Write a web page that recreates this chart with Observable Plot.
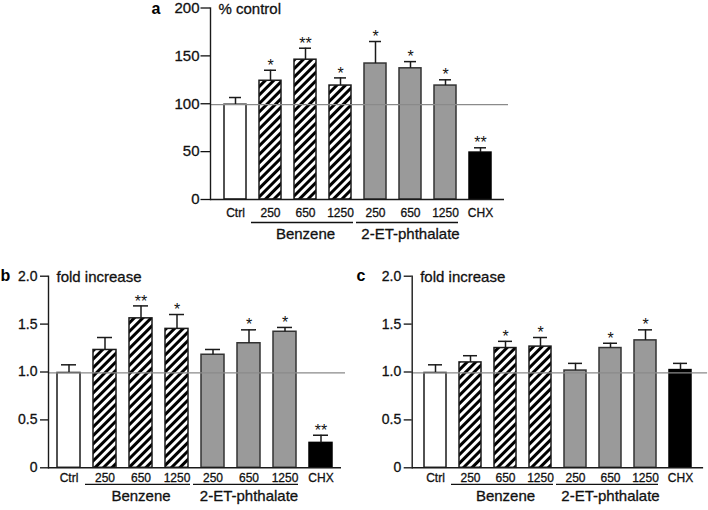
<!DOCTYPE html>
<html><head><meta charset="utf-8">
<script src="https://cdn.jsdelivr.net/npm/d3@7"></script>
<script src="https://cdn.jsdelivr.net/npm/@observablehq/plot@0.6"></script>
<style>
html,body{margin:0;padding:0;background:#fff;}
#fig{position:relative;width:708px;height:510px;overflow:hidden;background:#fff;font-family:"Liberation Sans",Arial,sans-serif;}
#fig > svg{position:absolute;}
</style></head><body>
<div id="fig"></div>
<script>
// ---- data ----
const categories = ["Ctrl","B250","B650","B1250","E250","E650","E1250","CHX"];
const tickLabels = ["Ctrl","250","650","1250","250","650","1250","CHX"];
const kinds = ["open","hatch","hatch","hatch","grey","grey","grey","black"];
const groupNames = ["Benzene","2-ET-phthalate"];
const groupFrom = ["B250","E250"];
const groupTo = ["B1250","E1250"];
const groupMid = ["B650","E650"];

const aValues = [99, 124, 146, 119, 142, 137, 119, 49];
const aErrors = [106.5, 135, 158, 127, 165, 144, 125, 54];
const aStars = ["", "*", "**", "*", "*", "*", "*", "**"];
const aTicks = [0, 50, 100, 150, 200];
const aTickLabels = ["0", "50", "100", "150", "200"];

const bValues = [0.99, 1.23, 1.56, 1.45, 1.18, 1.30, 1.42, 0.26];
const bErrors = [1.075, 1.36, 1.69, 1.60, 1.235, 1.44, 1.465, 0.34];
const bStars = ["", "", "**", "*", "", "*", "*", "**"];

const cValues = [0.99, 1.10, 1.25, 1.265, 1.015, 1.25, 1.33, 1.02];
const cErrors = [1.075, 1.17, 1.32, 1.36, 1.09, 1.30, 1.44, 1.09];
const cStars = ["", "", "*", "*", "", "*", "*", ""];

const foldTicks = [0, 0.5, 1.0, 1.5, 2.0];
const foldTickLabels = ["0", "0.5", "1.0", "1.5", "2.0"];

// ---- helpers ----
const fig = d3.select("#fig");

// hatch pattern definition
const defsSvg = fig.append("svg").attr("width", 0).attr("height", 0).style("left", "0px").style("top", "0px");
const pat = defsSvg.append("defs").append("pattern")
  .attr("id", "hatch").attr("patternUnits", "userSpaceOnUse")
  .attr("width", 6).attr("height", 6).attr("patternTransform", "rotate(45)");
pat.append("rect").attr("width", 6).attr("height", 6).attr("fill", "#fff");
pat.append("rect").attr("width", 3).attr("height", 6).attr("fill", "#000");

const fills = {open: "#ffffff", hatch: "url(#hatch)", grey: "#9a9a9a", black: "#000000"};
const strokes = {open: "#1a1a1a", hatch: "#1a1a1a", grey: "#333333", black: "#000000"};
const FONT = "'Liberation Sans', Arial, sans-serif";
const TS = {fill: "#111", stroke: "#111", strokeWidth: 0.3};

function panel(o) {
  const rows = categories.map((c, i) => ({key: c, label: tickLabels[i], kind: kinds[i], value: o.values[i], err: o.errors[i], star: o.stars[i]}));
  const groups = groupNames.map((g, i) => ({name: g, from: groupFrom[i], to: groupTo[i], mid: groupMid[i]}));
  const labelOf = Object.fromEntries(categories.map((c, i) => [c, tickLabels[i]]));
  const tickText = new Map(o.ticks.map((t, i) => [t, o.tickLabels[i]]));
  const barMarks = Object.keys(fills).map(k => Plot.barY(rows.filter(d => d.kind === k), {
    x: "key", y: "value", fill: fills[k], stroke: strokes[k], strokeWidth: 1.5
  }));
  const plot = Plot.plot({
    width: o.width, height: o.height,
    marginLeft: o.marginLeft, marginRight: o.marginRight, marginTop: o.marginTop, marginBottom: o.marginBottom,
    style: {fontFamily: FONT, fontSize: "13px", overflow: "visible", background: "transparent", color: "#111"},
    x: {domain: categories, paddingInner: o.pi, paddingOuter: o.po, align: 0.5},
    y: {domain: [0, o.yMax]},
    marks: [
      ...barMarks,
      Plot.ruleX(rows, {x: "key", y1: "value", y2: "err", stroke: "#1a1a1a", strokeWidth: 1.5}),
      Plot.tickY(rows, {x: "key", y: "err", insetLeft: o.capInset, insetRight: o.capInset, stroke: "#1a1a1a", strokeWidth: 1.5}),
      Plot.ruleY([o.ref], {stroke: "#8a8a8a", strokeWidth: 1.3, insetRight: -4}),
      Plot.ruleY([0], {stroke: "#1a1a1a", strokeWidth: 1.4}),
      Plot.frame({anchor: "left", stroke: "#1a1a1a", strokeWidth: 1.4}),
      Plot.axisY({ticks: o.ticks, tickSize: o.tickSize, tickPadding: o.tickPad, strokeWidth: 1.3, label: null, text: null}),
      Plot.text(o.ticks, {y: d => d, text: d => tickText.get(d), frameAnchor: "left", textAnchor: "end", lineAnchor: "middle",
        dx: -(o.tickSize + o.tickPad), fontSize: o.tickFont, ...TS}),
      Plot.text(rows.filter(d => d.star), {x: "key", y: "err", text: "star", dy: -4.5, fontSize: 16}),
      Plot.axisX({tickSize: 0, tickPadding: o.catPad, fontSize: o.catFont, tickFormat: k => labelOf[k],
        textStroke: "#111", textStrokeWidth: 0.3, label: null}),
      Plot.text(groups, {x: "mid", text: "name", frameAnchor: "bottom", lineAnchor: "top", dy: o.groupDy, fontSize: o.groupFont, ...TS}),
      Plot.text([o.title], {frameAnchor: "top-left", textAnchor: "start", lineAnchor: "middle", dx: 8, dy: 1, fontSize: 15, ...TS})
    ]
  });
  // group underlines positioned with the plot's own x scale
  const xs = plot.scale("x");
  const y0 = plot.scale("y").apply(0);
  const g = d3.select(plot).append("g");
  groups.forEach(gr => {
    g.append("line")
      .attr("x1", xs.apply(gr.from) - 8).attr("x2", xs.apply(gr.to) + xs.bandwidth + 2)
      .attr("y1", y0 + o.lineDy).attr("y2", y0 + o.lineDy)
      .attr("stroke", "#111").attr("stroke-width", 1.3);
  });
  d3.select(plot).style("left", o.left + "px").style("top", o.top + "px");
  fig.node().appendChild(plot);
}

panel({values: aValues, errors: aErrors, stars: aStars, yMax: 200, ticks: aTicks, tickLabels: aTickLabels, ref: 99,
  title: "% control", left: 140, top: 0, width: 380, height: 248, marginLeft: 70, marginRight: 16, marginTop: 7.5, marginBottom: 49,
  pi: 0.374, po: 0.278, capInset: 5, catPad: 9.3, catFont: 12, groupDy: 28.5, groupFont: 15, lineDy: 23.5,
  tickSize: 9.5, tickPad: 1.5, tickFont: 15});

panel({values: bValues, errors: bErrors, stars: bStars, yMax: 2.0, ticks: foldTicks, tickLabels: foldTickLabels, ref: 0.99,
  title: "fold increase", left: 0, top: 255, width: 360, height: 255, marginLeft: 48, marginRight: 19, marginTop: 20.7, marginBottom: 42.7,
  pi: 0.362, po: 0.25, capInset: 4, catPad: 6, catFont: 12, groupDy: 22.5, groupFont: 15, lineDy: 17,
  tickSize: 8, tickPad: 3, tickFont: 14});

panel({values: cValues, errors: cErrors, stars: cStars, yMax: 2.0, ticks: foldTicks, tickLabels: foldTickLabels, ref: 0.99,
  title: "fold increase", left: 360, top: 255, width: 348, height: 255, marginLeft: 51.7, marginRight: 4.9, marginTop: 20.7, marginBottom: 42.7,
  pi: 0.372, po: 0.251, capInset: 4, catPad: 6, catFont: 12, groupDy: 22.5, groupFont: 15, lineDy: 17,
  tickSize: 8, tickPad: 3, tickFont: 14});

// panel letters
const overlay = fig.append("svg").attr("width", 708).attr("height", 510).style("left", "0px").style("top", "0px").style("pointer-events", "none");
const letters = [["a", 151.5, 13.5], ["b", 0.5, 280.5], ["c", 356.5, 280.5]];
letters.forEach(([t, x, y]) => overlay.append("text").attr("x", x).attr("y", y).text(t)
  .attr("font-family", FONT).attr("font-weight", "bold").attr("font-size", 16).attr("fill", "#000"));
</script>
</body></html>
